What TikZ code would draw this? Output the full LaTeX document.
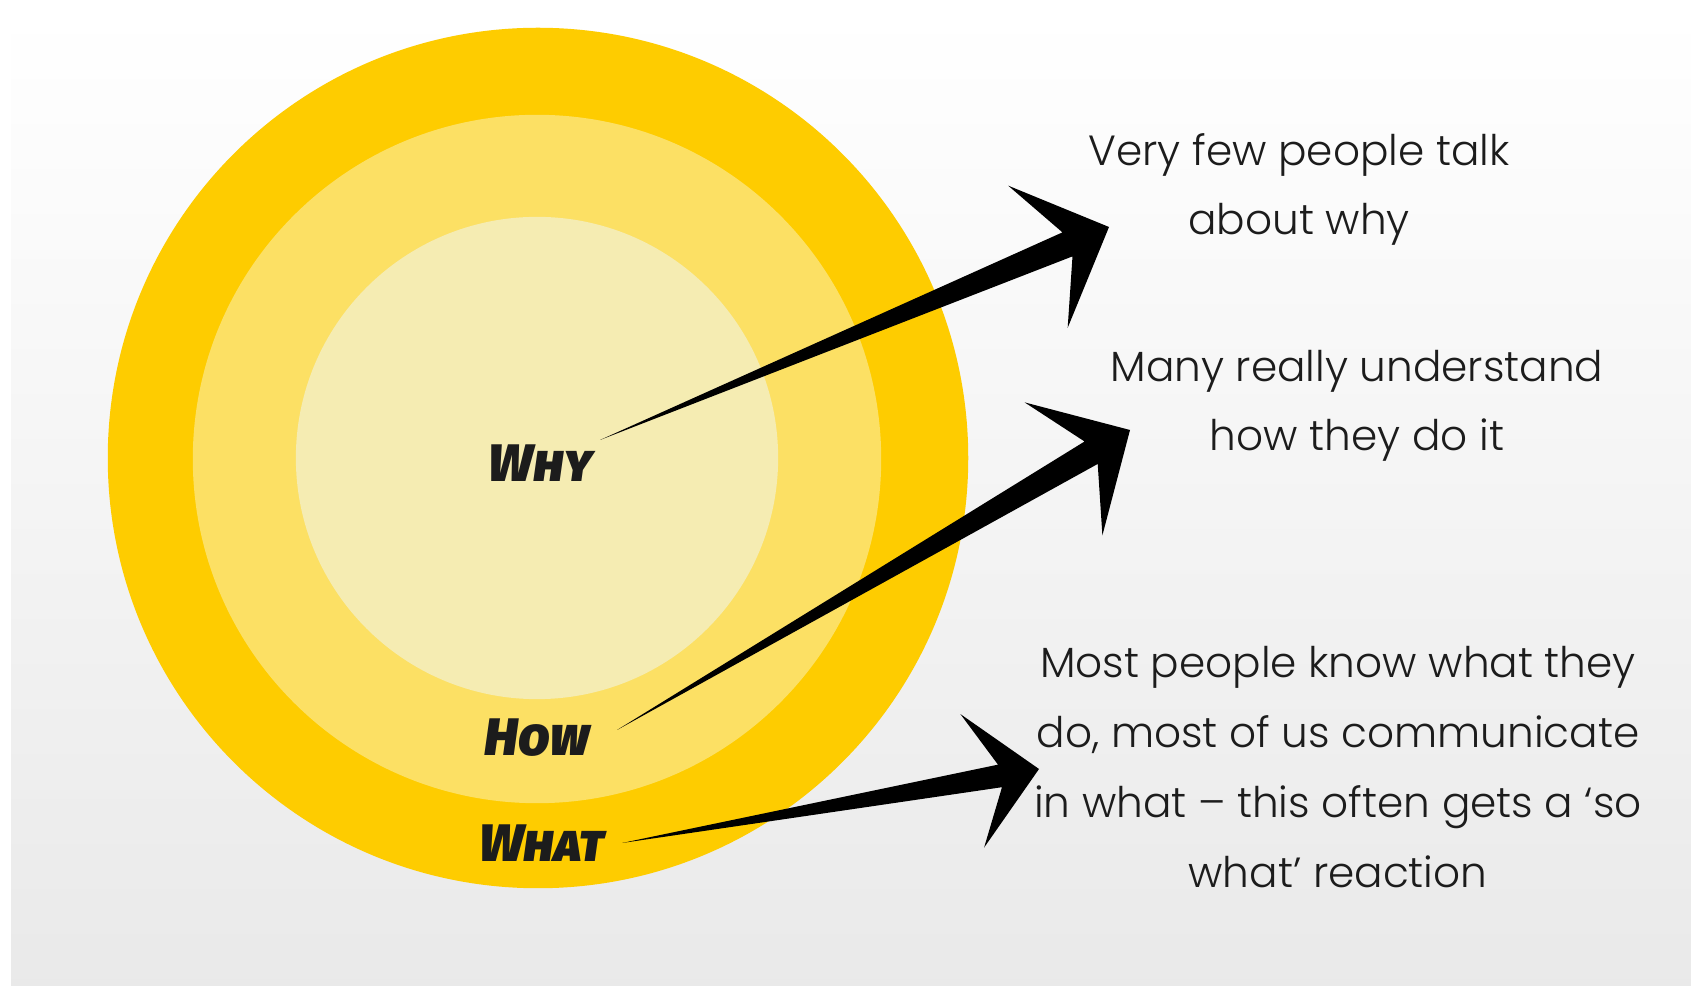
\documentclass[tikz,border=0pt]{standalone}
\usepackage{fontspec}
\usetikzlibrary{calc}

\newfontfamily\tenkefont{Poppins Light}
\newfontfamily\stetecfont[Letters=SmallCaps]{Fira Sans Black Italic}

\definecolor{zluta}{RGB}{254,204,0}
\definecolor{stredni}{RGB}{252,224,100}
\definecolor{svetla}{RGB}{245,236,178}
\definecolor{inkoust}{RGB}{28,28,28}

\tikzset{
  popisek/.style={font=\stetecfont\fontsize{15}{15}\selectfont, text=inkoust},
  komentar/.style={font=\tenkefont\fontsize{12}{19.9}\selectfont, align=center, anchor=base, text=inkoust}
}

% sipka se zuzenym koncem: od (#1) ke spicce (#2), velikost hlavy #3
\newcommand{\sipka}[3]{%
  \coordinate (zarez) at ($(#2)!0.45*#3cm!(#1)$);
  \coordinate (ostny) at ($(#2)!0.77*#3cm!(#1)$);
  \fill[black] (#1) -- ($(zarez)!0.13*#3cm!90:(#2)$) -- ($(ostny)!0.77*#3cm!90:(#2)$)
    -- (#2) -- ($(ostny)!0.77*#3cm!-90:(#2)$) -- ($(zarez)!0.13*#3cm!-90:(#2)$) -- cycle;
}

\begin{document}
\begin{tikzpicture}[x=0.01cm, y=-0.01cm]
      \useasboundingbox (0,0) rectangle (1691,986);
      % Pozadi
      \fill[white] (0,0) rectangle (1691,986);
      \shade[top color=white, bottom color=gray!17] (11,11) rectangle (1691,986);

      % Vnejsi kruh - What
      \fill[zluta] (538,458) circle[radius=4.3cm];
      \node[popisek] (what) at (542,843) {What};

      % Prostredni kruh - How
      \fill[stredni] (537,459) circle[radius=3.44cm];
      \node[popisek] (how) at (537,738) {How};

      % Vnitrni kruh - Why
      \fill[svetla] (537,458) circle[radius=2.41cm];
      \node[popisek] (why) at (541,463) {Why};

      % Komentare vpravo (kotva = uctaria posledniho radku)
      \node[komentar] (malo) at (1299,235) {Very few people talk\\about why};
      \node[komentar] (mnoho) at (1357,451) {Many really understand\\how they do it};
      \node[komentar] (vetsina) at (1338,887) {Most people know what they\\do, most of us communicate\\in what – this often gets a ‘so\\what’ reaction};

      % Sipky
      \coordinate (whyend) at (600,440);
      \coordinate (whytip) at (1109,227);
      \coordinate (howend) at (617,730);
      \coordinate (howtip) at (1130,430);
      \coordinate (whatend) at (622,843);
      \coordinate (whattip) at (1039,769);
      \sipka{whyend}{whytip}{1}
      \sipka{howend}{howtip}{1}
      \sipka{whatend}{whattip}{0.88}
    \end{tikzpicture}
\end{document}
